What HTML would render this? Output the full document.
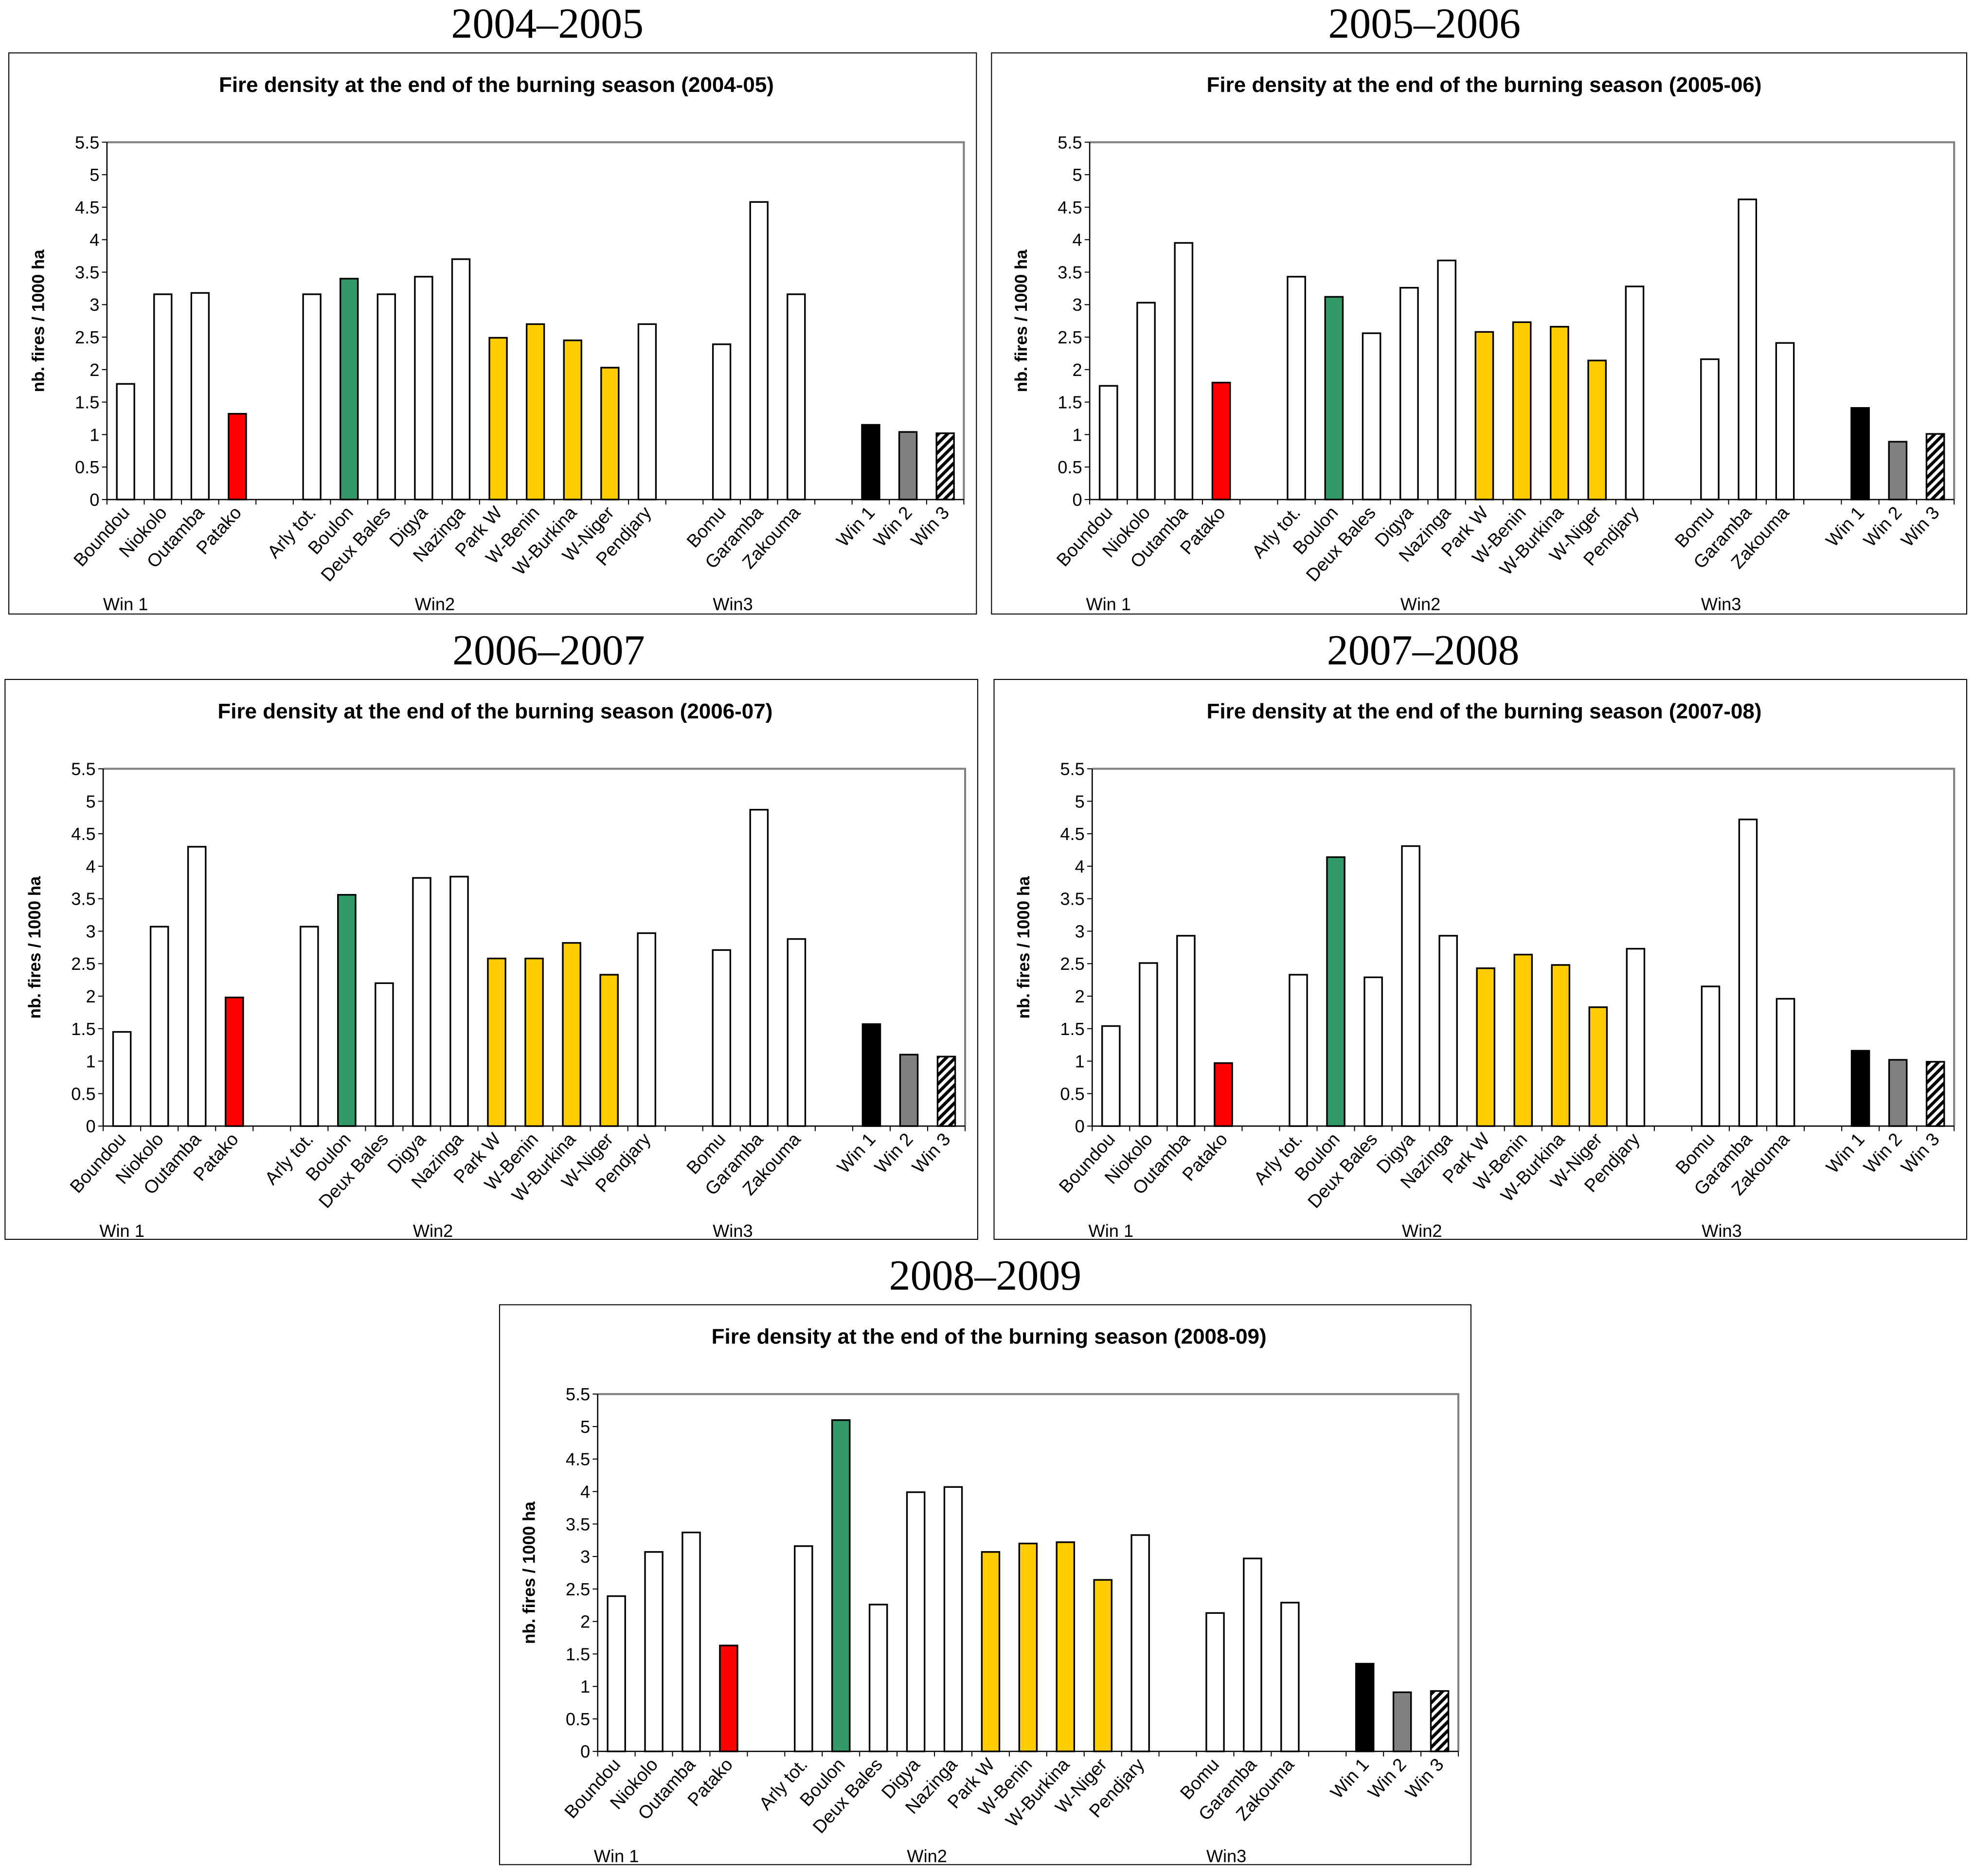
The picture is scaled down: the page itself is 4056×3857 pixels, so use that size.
<!DOCTYPE html>
<html><head><meta charset="utf-8"><style>
html,body{margin:0;padding:0;background:#fff;}
svg{display:block;}
text{font-family:"Liberation Sans",Arial,sans-serif;}
</style></head><body>
<svg id="fig" xmlns="http://www.w3.org/2000/svg" width="4056" height="3857" viewBox="0 0 1568 1491">
<defs>
<pattern id="hatch" patternUnits="userSpaceOnUse" width="5" height="5" patternTransform="rotate(45)">
<rect width="5" height="5" fill="#fff"/><rect width="2.5" height="5" fill="#000"/>
</pattern>
</defs>
</svg>
<script>
const categories=["Boundou","Niokolo","Outamba","Patako",null,"Arly tot.","Boulon","Deux Bales","Digya","Nazinga","Park W","W-Benin","W-Burkina","W-Niger","Pendjary",null,"Bomu","Garamba","Zakouma",null,"Win 1","Win 2","Win 3"];
const barColors=["#fff","#fff","#fff","#ff0000",null,"#fff","#339966","#fff","#fff","#fff","#ffcc00","#ffcc00","#ffcc00","#ffcc00","#fff",null,"#fff","#fff","#fff",null,"#000","#808080","url(#hatch)"];
const yTicks=["0","0.5","1","1.5","2","2.5","3","3.5","4","4.5","5","5.5"];
const groupLabels=["Win 1","Win2","Win3"];
const values2004=[1.78,3.16,3.18,1.32,3.16,3.40,3.16,3.43,3.70,2.49,2.70,2.45,2.03,2.70,2.39,4.58,3.16,1.15,1.04,1.02];
const values2005=[1.75,3.03,3.95,1.80,3.43,3.12,2.56,3.26,3.68,2.58,2.73,2.66,2.14,3.28,2.16,4.62,2.41,1.41,0.89,1.01];
const values2006=[1.45,3.07,4.30,1.98,3.07,3.56,2.20,3.82,3.84,2.58,2.58,2.82,2.33,2.97,2.71,4.87,2.88,1.57,1.10,1.07];
const values2007=[1.54,2.51,2.93,0.97,2.33,4.14,2.29,4.31,2.93,2.43,2.64,2.48,1.83,2.73,2.15,4.72,1.96,1.16,1.02,0.99];
const values2008=[2.39,3.07,3.37,1.63,3.16,5.10,2.26,3.99,4.07,3.07,3.20,3.22,2.64,3.33,2.13,2.97,2.29,1.35,0.91,0.93];
const years=["2004–2005","2005–2006","2006–2007","2007–2008","2008–2009"];
const seasons=["2004-05","2005-06","2006-07","2007-08","2008-09"];
const allValues=[values2004,values2005,values2006,values2007,values2008];
const panels=[{x:7,y:42,w:769,h:446,hx:435},{x:788,y:42,w:775,h:446,hx:1132},{x:4,y:540,w:773,h:445,hx:436},{x:790,y:540,w:773,h:445,hx:1131},{x:397,y:1037,w:772,h:445,hx:783}];
const NS="http://www.w3.org/2000/svg";
const svg=document.getElementById('fig');
function mk(tag,attrs,parent,txt){const e=document.createElementNS(NS,tag);for(const k in attrs)e.setAttribute(k,attrs[k]);if(txt!=null)e.textContent=txt;parent.appendChild(e);return e;}
panels.forEach((p,pi)=>{
  const g=mk('g',{},svg);
  
  
  const yt=mk('text',{x:p.hx,y:p.y-12,'text-anchor':'middle','font-size':34,style:'font-family:"Liberation Serif",serif'},g,years[pi]);
  
  
  const fr=mk('rect',{x:p.x,y:p.y,width:p.w,height:p.h,fill:'#fff',stroke:'#000','stroke-width':0.8},g);
  
  
  const tt=mk('text',{x:p.x+p.w/2+(pi==1?4:3),y:p.y+31,'text-anchor':'middle','font-size':17,'font-weight':'bold'},g,'Fire density at the end of the burning season ('+seasons[pi]+')');
  
  
  const L=p.x+78,R=p.x+p.w-10,T=p.y+71,B=p.y+355;
  const ys=v=>B-(v/5.5)*(B-T);
  const slot=(R-L)/categories.length;
  mk('path',{d:`M${L} ${T}H${R}V${B}`,fill:'none',stroke:'#808080','stroke-width':1.6},g);
  mk('path',{d:`M${L} ${T}V${B}H${R}`,fill:'none',stroke:'#000','stroke-width':1},g);
  yTicks.forEach(t=>{const y=ys(parseFloat(t));
    mk('line',{x1:L-4,x2:L,y1:y,y2:y,stroke:'#000','stroke-width':0.8},g);
    const tl=mk('text',{x:L-6,y:y+5,'text-anchor':'end','font-size':14},g,t);
    
    
  });
  for(let i=0;i<=categories.length;i++){mk('line',{x1:L+i*slot,x2:L+i*slot,y1:B,y2:B+4,stroke:'#000','stroke-width':0.8},g);}
  const ya=mk('text',{transform:`translate(${p.x+28},${(T+B)/2}) rotate(-90)`,'text-anchor':'middle','font-size':13.5,'font-weight':'bold'},g,'nb. fires / 1000 ha');
  
  
  const vals=allValues[pi];let vi=0;
  categories.forEach((c,i)=>{
    if(c===null)return;
    const v=vals[vi++];const cx=L+(i+0.5)*slot;const bw=slot*0.47;
    const r=mk('rect',{x:cx-bw/2,y:ys(v),width:bw,height:B-ys(v),fill:barColors[i],stroke:'#000','stroke-width':1.3},g);
    
    
    const xl=mk('text',{transform:`translate(${cx+4},${B+11}) rotate(-48)`,'text-anchor':'end','font-size':14.5},g,c);
    
    
  });
  const gx=[L+0.5*slot, L+8.8*slot, L+16.8*slot];
  groupLabels.forEach((gl,k)=>{
    const t=mk('text',{x:gx[k],y:p.y+443,'text-anchor':'middle','font-size':14},g,gl);
    
    
  });
});
</script>
</body></html>
